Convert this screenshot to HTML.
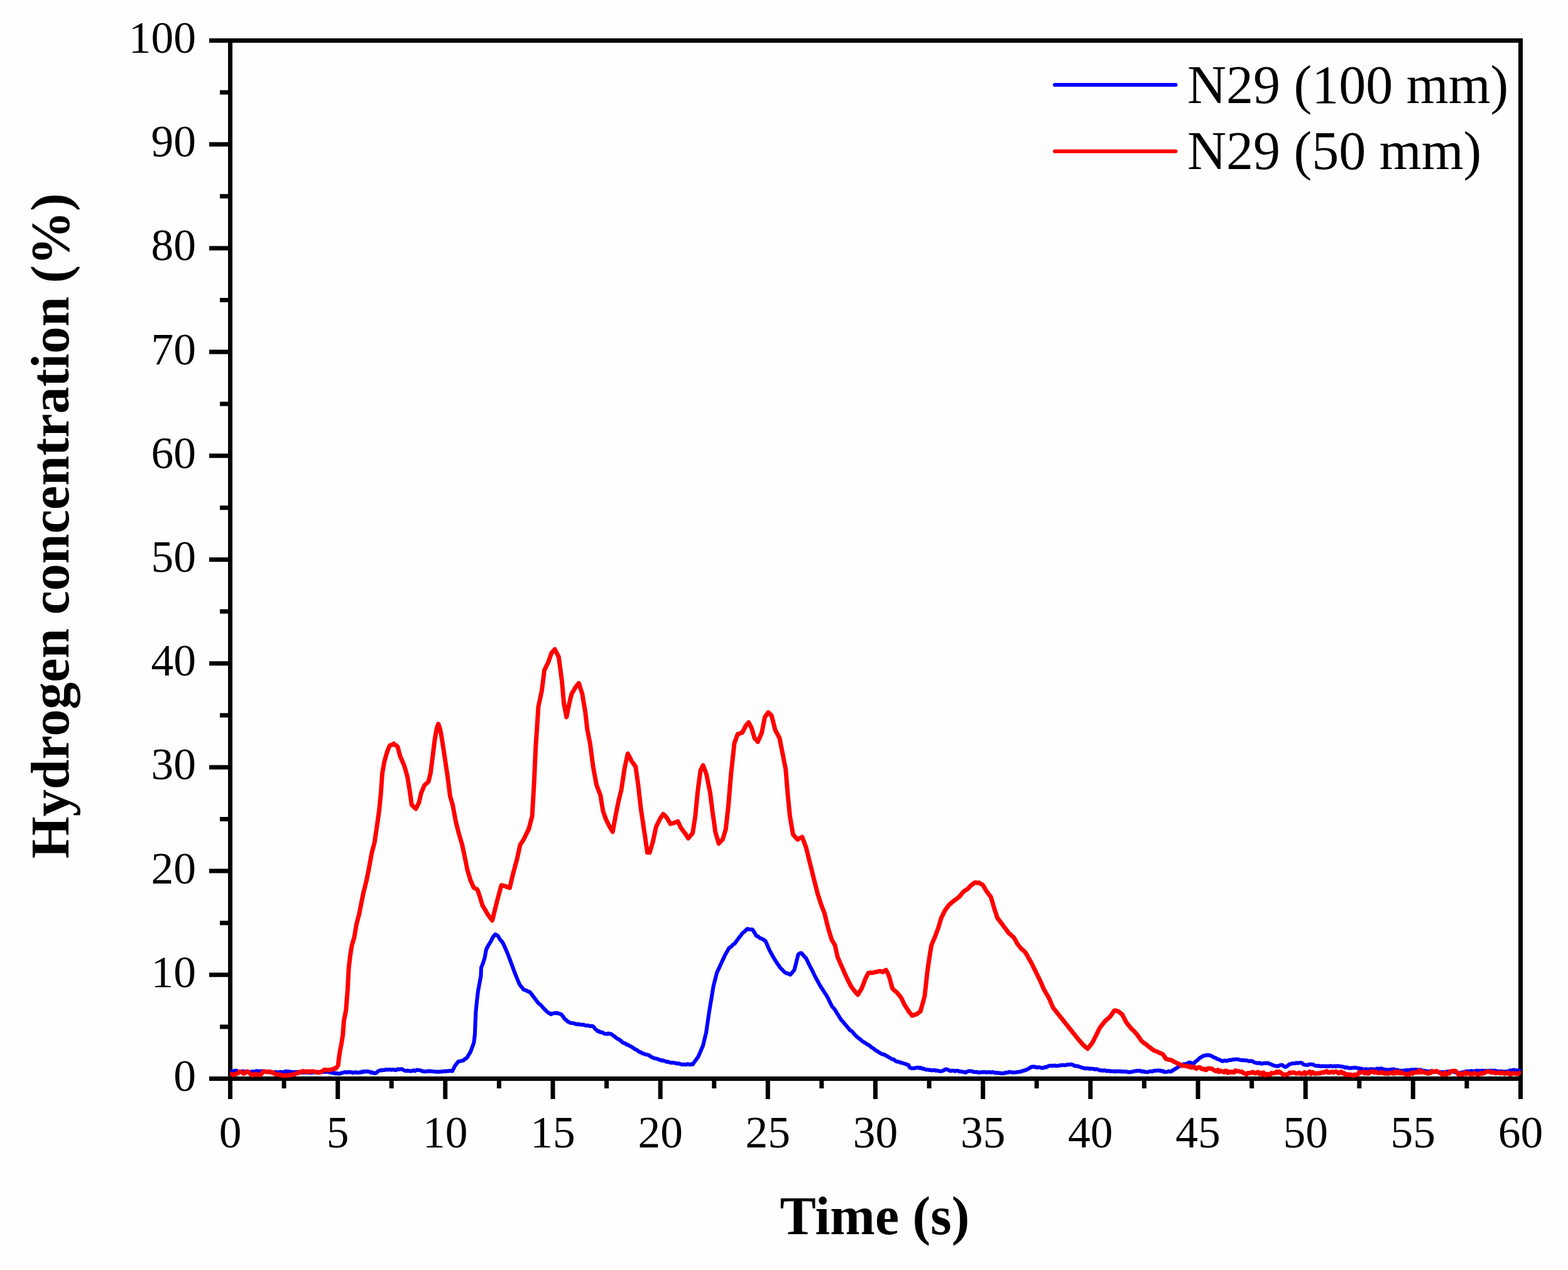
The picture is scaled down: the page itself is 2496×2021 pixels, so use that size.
<!DOCTYPE html>
<html><head><meta charset="utf-8"><title>Hydrogen concentration</title>
<style>
html,body{margin:0;padding:0;background:#fefefe;}
svg{display:block;}
text{font-family:"Liberation Serif","Times New Roman",serif;fill:#000;}
</style></head><body>
<svg width="2496" height="2021" viewBox="0 0 2496 2021">
<rect x="0" y="0" width="2496" height="2021" fill="#fefefe"/>
<rect x="366.5" y="64.5" width="2054.0" height="1652.0" fill="none" stroke="#000" stroke-width="7"/>
<path d="M333.0 1716.5H366.5M350.0 1633.9H366.5M333.0 1551.3H366.5M350.0 1468.7H366.5M333.0 1386.1H366.5M350.0 1303.5H366.5M333.0 1220.9H366.5M350.0 1138.3H366.5M333.0 1055.7H366.5M350.0 973.1H366.5M333.0 890.5H366.5M350.0 807.9H366.5M333.0 725.3H366.5M350.0 642.7H366.5M333.0 560.1H366.5M350.0 477.5H366.5M333.0 394.9H366.5M350.0 312.3H366.5M333.0 229.7H366.5M350.0 147.1H366.5M333.0 64.5H366.5M366.5 1716.5V1749.0M452.1 1716.5V1732.0M537.7 1716.5V1749.0M623.2 1716.5V1732.0M708.8 1716.5V1749.0M794.4 1716.5V1732.0M880.0 1716.5V1749.0M965.6 1716.5V1732.0M1051.2 1716.5V1749.0M1136.8 1716.5V1732.0M1222.3 1716.5V1749.0M1307.9 1716.5V1732.0M1393.5 1716.5V1749.0M1479.1 1716.5V1732.0M1564.7 1716.5V1749.0M1650.2 1716.5V1732.0M1735.8 1716.5V1749.0M1821.4 1716.5V1732.0M1907.0 1716.5V1749.0M1992.6 1716.5V1732.0M2078.2 1716.5V1749.0M2163.8 1716.5V1732.0M2249.3 1716.5V1749.0M2334.9 1716.5V1732.0M2420.5 1716.5V1749.0" stroke="#000" stroke-width="7" fill="none"/>
<polyline points="366.3,1705.5 368.4,1705.7 370.5,1705.3 372.6,1704.2 374.7,1703.7 376.8,1703.9 378.9,1705.0 381.0,1705.0 383.1,1705.0 385.2,1704.9 387.3,1704.8 389.4,1705.4 391.5,1705.6 393.6,1705.8 395.7,1705.4 397.8,1706.1 399.8,1705.6 401.8,1705.2 403.9,1705.3 405.9,1705.3 407.9,1704.2 410.1,1705.0 412.2,1704.6 414.4,1704.7 416.5,1704.6 418.7,1704.5 420.8,1704.7 423.0,1705.5 425.1,1705.6 427.2,1705.5 429.3,1705.8 431.4,1706.6 433.5,1706.3 435.6,1706.5 437.7,1706.1 439.8,1706.0 441.9,1706.8 443.9,1706.3 446.0,1705.8 448.0,1706.1 450.0,1706.5 452.1,1705.9 454.1,1704.9 456.2,1705.7 458.2,1704.9 460.4,1705.5 462.5,1705.6 464.7,1706.0 466.9,1706.0 469.1,1706.2 471.2,1705.7 473.4,1706.1 475.5,1706.9 477.6,1706.9 479.7,1705.9 481.8,1706.8 483.8,1706.8 485.9,1706.5 488.0,1706.7 490.1,1706.7 492.2,1706.8 494.3,1707.3 496.4,1706.5 498.5,1706.8 500.6,1706.0 502.7,1706.6 504.8,1706.5 506.9,1705.7 509.0,1705.7 511.1,1705.5 513.2,1706.2 515.3,1706.0 517.4,1705.8 519.5,1705.5 521.6,1705.8 523.7,1706.1 525.9,1706.7 528.0,1706.3 530.2,1707.7 532.3,1707.2 534.5,1708.5 536.6,1708.0 538.8,1708.6 540.8,1708.7 542.8,1707.9 544.9,1707.1 546.9,1706.6 548.9,1706.1 551.0,1706.4 553.1,1706.4 555.2,1706.1 557.3,1706.0 559.4,1706.5 561.5,1707.2 563.6,1706.8 565.7,1706.1 567.8,1706.8 569.8,1707.0 571.9,1706.6 574.0,1706.7 576.0,1705.4 578.0,1706.0 580.1,1704.8 582.2,1705.4 584.2,1704.9 586.3,1705.1 588.4,1705.6 590.5,1707.0 592.6,1706.4 594.7,1707.5 596.8,1708.0 599.0,1707.2 601.2,1705.1 603.4,1703.8 605.6,1703.0 607.7,1703.4 609.8,1702.7 611.9,1703.0 614.0,1701.9 616.1,1702.2 618.2,1702.3 620.7,1701.9 623.2,1702.7 625.6,1701.9 628.1,1702.6 630.5,1702.9 632.9,1701.3 635.3,1701.9 637.7,1701.3 639.9,1701.4 642.0,1702.6 644.2,1703.7 646.2,1704.3 648.2,1703.6 650.3,1703.9 652.3,1704.5 654.4,1704.5 656.4,1703.9 658.5,1703.2 660.6,1704.3 662.7,1702.9 664.7,1702.5 666.8,1702.9 669.2,1703.3 671.6,1704.3 674.1,1705.0 676.5,1705.3 678.7,1704.7 681.0,1704.9 683.2,1704.3 685.5,1704.8 687.7,1704.8 689.9,1705.3 692.0,1705.3 694.2,1705.6 696.3,1705.5 698.5,1705.7 700.6,1705.3 702.8,1705.5 704.9,1705.0 707.0,1704.5 709.2,1705.0 711.4,1704.4 713.5,1704.5 715.7,1703.9 717.8,1704.4 720.0,1704.5 722.0,1700.7 724.0,1696.5 726.9,1692.7 729.7,1689.2 731.7,1688.9 733.7,1688.3 735.7,1688.0 737.7,1687.6 739.9,1685.2 742.0,1684.4 744.2,1681.9 746.6,1677.8 749.0,1673.9 751.6,1666.7 754.3,1659.4 755.9,1646.5 756.7,1625.5 757.5,1609.4 759.1,1593.2 761.0,1577.1 763.1,1565.8 765.5,1552.9 766.0,1540.0 769.2,1531.9 771.6,1523.9 774.0,1511.0 777.3,1504.5 779.3,1501.3 781.3,1498.1 784.5,1491.6 786.5,1489.0 788.5,1486.8 790.5,1488.1 792.6,1489.2 795.8,1494.8 797.9,1497.1 800.0,1499.7 802.2,1504.1 804.3,1508.8 806.4,1513.6 808.5,1518.7 810.6,1524.1 812.6,1529.6 814.7,1535.3 816.8,1540.9 818.8,1546.4 820.9,1551.9 823.0,1556.9 825.0,1561.7 827.1,1566.4 829.2,1569.4 831.3,1571.8 833.4,1574.7 835.5,1575.4 837.5,1576.0 839.6,1577.3 841.6,1578.2 843.7,1578.8 845.8,1581.7 847.9,1584.4 850.0,1587.1 852.1,1589.8 854.1,1592.6 856.2,1595.4 858.3,1597.5 860.4,1598.9 862.4,1601.0 864.5,1603.7 866.6,1605.8 868.6,1607.7 870.7,1610.0 872.8,1611.7 874.8,1612.4 876.9,1614.1 879.0,1613.0 881.0,1612.6 883.1,1612.1 885.2,1612.0 887.3,1612.1 889.4,1613.1 891.4,1613.5 893.5,1614.1 895.6,1616.8 897.7,1619.7 899.8,1622.4 901.9,1623.4 903.9,1625.8 906.0,1626.6 908.1,1627.8 910.1,1628.0 912.2,1628.2 914.3,1628.8 916.3,1629.5 918.4,1629.9 920.5,1629.5 922.6,1630.3 924.6,1630.7 926.7,1630.5 928.8,1630.7 930.9,1631.5 933.0,1632.1 935.0,1631.7 937.1,1632.2 939.2,1633.0 941.2,1632.7 943.3,1632.8 945.4,1634.6 947.5,1637.6 949.5,1638.8 951.6,1641.1 953.7,1641.1 955.8,1642.7 957.9,1642.6 959.9,1643.6 962.0,1645.0 964.1,1645.2 966.2,1645.4 968.2,1644.5 970.3,1645.1 972.4,1645.2 974.5,1646.6 976.5,1648.3 978.6,1649.5 980.7,1651.5 982.8,1653.0 984.8,1653.7 986.9,1655.3 989.0,1656.9 991.0,1659.0 993.1,1659.8 995.2,1660.2 997.3,1662.2 999.4,1662.5 1001.4,1664.0 1003.5,1664.8 1005.6,1666.0 1007.7,1667.3 1009.7,1669.1 1011.8,1670.0 1013.9,1671.0 1015.9,1672.4 1018.0,1674.3 1020.1,1674.4 1022.2,1676.2 1024.2,1676.5 1026.3,1677.7 1028.4,1678.0 1030.5,1678.4 1033.1,1679.1 1035.7,1681.4 1038.3,1682.6 1040.4,1683.7 1042.4,1684.3 1044.5,1684.6 1046.6,1685.1 1048.6,1686.0 1050.7,1686.7 1052.8,1687.6 1054.9,1687.3 1057.0,1688.2 1059.0,1688.6 1061.1,1689.8 1063.2,1689.6 1065.3,1690.4 1067.3,1691.0 1069.4,1691.3 1071.5,1691.0 1073.5,1691.3 1075.6,1692.1 1077.7,1692.4 1079.8,1692.3 1081.8,1692.8 1083.9,1693.5 1086.0,1694.1 1088.1,1693.8 1090.2,1693.9 1092.2,1694.2 1094.3,1693.2 1096.4,1693.6 1098.5,1694.5 1100.5,1693.3 1102.6,1693.8 1104.7,1691.0 1106.8,1688.0 1108.8,1685.2 1110.9,1682.6 1113.0,1678.1 1115.0,1673.5 1117.0,1668.6 1119.1,1663.9 1121.6,1653.4 1124.1,1643.2 1126.2,1628.6 1128.3,1614.1 1130.3,1601.5 1132.4,1589.2 1135.8,1568.5 1138.5,1558.2 1141.2,1547.7 1144.1,1541.6 1147.0,1535.3 1149.2,1530.4 1151.5,1525.6 1153.7,1520.7 1156.0,1516.4 1158.4,1512.5 1160.7,1508.3 1162.8,1507.4 1164.8,1505.6 1166.9,1503.1 1169.0,1502.1 1171.1,1499.3 1173.1,1496.7 1175.2,1493.8 1177.3,1490.9 1179.4,1488.4 1181.5,1485.5 1183.6,1483.6 1185.7,1482.0 1187.7,1479.7 1189.8,1478.0 1191.8,1479.0 1193.9,1479.0 1196.0,1479.1 1198.0,1479.3 1200.1,1482.6 1202.2,1486.1 1204.3,1489.6 1206.4,1490.0 1208.4,1491.8 1210.5,1493.3 1212.6,1493.8 1214.7,1494.7 1216.7,1496.5 1218.8,1497.9 1220.9,1502.7 1222.9,1507.5 1225.0,1512.4 1227.1,1516.1 1229.2,1519.9 1231.2,1523.4 1233.3,1527.0 1235.4,1530.1 1237.4,1533.4 1239.5,1536.2 1241.6,1539.4 1243.7,1541.8 1245.8,1543.8 1247.8,1546.0 1249.9,1547.7 1252.0,1549.0 1254.1,1549.0 1256.1,1550.3 1258.2,1551.0 1260.3,1548.5 1262.3,1546.1 1264.4,1543.6 1266.5,1535.5 1268.6,1527.1 1270.7,1518.7 1273.2,1517.0 1275.6,1516.6 1278.1,1519.4 1280.6,1522.2 1283.1,1524.9 1285.2,1529.2 1287.2,1533.3 1289.3,1537.5 1291.4,1541.5 1293.5,1545.4 1295.6,1550.0 1297.6,1554.0 1299.7,1558.1 1301.8,1561.8 1303.8,1565.5 1305.9,1569.1 1308.0,1572.6 1310.1,1575.6 1312.2,1579.0 1314.2,1582.1 1316.3,1585.1 1318.4,1589.1 1320.4,1593.5 1322.5,1597.6 1324.6,1601.7 1328.3,1605.8 1330.4,1609.0 1332.5,1612.6 1334.5,1615.6 1336.6,1619.1 1338.7,1622.4 1340.8,1624.8 1342.8,1627.1 1344.9,1629.7 1347.0,1632.1 1349.0,1634.4 1351.1,1636.9 1353.2,1639.6 1355.3,1640.5 1357.3,1642.4 1359.4,1645.2 1361.5,1647.3 1363.6,1649.5 1365.6,1651.0 1367.7,1652.9 1369.8,1654.2 1371.8,1656.2 1373.9,1657.7 1376.0,1658.9 1378.1,1660.1 1380.2,1661.9 1382.2,1662.6 1384.3,1664.0 1386.4,1666.0 1388.5,1667.7 1390.5,1668.3 1392.6,1670.5 1394.7,1671.9 1396.7,1672.8 1398.8,1674.3 1400.9,1675.6 1403.0,1676.8 1405.0,1677.9 1407.1,1677.9 1409.2,1679.0 1411.3,1680.5 1413.5,1681.6 1415.7,1682.9 1417.8,1683.9 1420.0,1685.4 1422.3,1685.8 1424.7,1687.6 1427.0,1689.2 1429.3,1689.6 1431.7,1690.1 1434.0,1691.1 1436.3,1691.5 1438.7,1692.4 1441.1,1693.0 1443.6,1694.3 1446.0,1694.5 1448.0,1698.7 1451.7,1700.3 1453.8,1699.7 1455.8,1699.9 1457.9,1699.3 1459.9,1699.1 1462.0,1698.7 1464.0,1699.8 1466.0,1699.1 1468.0,1700.7 1470.0,1700.4 1472.0,1701.4 1474.0,1702.1 1476.0,1702.2 1478.3,1702.6 1480.7,1702.5 1483.0,1703.4 1485.3,1703.1 1487.3,1702.7 1489.3,1703.7 1491.3,1703.5 1493.3,1703.9 1495.3,1704.6 1497.3,1704.7 1499.3,1704.5 1501.5,1703.7 1503.6,1702.2 1505.8,1701.5 1508.3,1702.1 1510.8,1703.3 1513.3,1704.3 1515.6,1703.8 1517.9,1703.7 1520.3,1704.6 1522.6,1703.8 1524.6,1703.7 1526.6,1705.1 1528.6,1704.9 1530.6,1705.3 1532.6,1705.7 1534.6,1705.8 1536.6,1706.8 1538.8,1705.9 1540.9,1704.7 1543.1,1704.3 1545.2,1704.5 1547.3,1704.6 1549.4,1705.7 1551.5,1706.0 1553.7,1705.7 1555.8,1706.2 1557.9,1706.9 1560.0,1706.6 1562.1,1706.3 1564.1,1706.0 1566.2,1706.1 1568.3,1706.0 1570.3,1706.6 1572.4,1706.2 1574.5,1706.1 1576.5,1706.7 1578.6,1706.2 1580.7,1706.1 1582.8,1707.1 1584.9,1707.1 1587.0,1707.0 1589.1,1707.8 1591.2,1707.3 1593.3,1708.3 1595.4,1708.0 1597.6,1708.1 1599.9,1707.1 1602.1,1706.9 1604.4,1706.8 1606.6,1705.7 1610.0,1706.4 1612.3,1706.6 1614.7,1706.5 1617.0,1706.5 1619.3,1705.9 1621.5,1706.0 1623.8,1705.3 1626.0,1705.2 1628.3,1703.8 1630.5,1703.6 1633.0,1702.7 1635.5,1701.6 1638.0,1700.3 1640.3,1698.7 1642.6,1697.5 1644.9,1697.6 1647.3,1697.5 1649.7,1698.8 1652.0,1698.4 1654.3,1698.4 1656.7,1698.8 1659.0,1699.6 1661.3,1699.2 1663.5,1698.0 1665.6,1698.4 1667.8,1697.0 1670.2,1696.2 1672.5,1695.8 1674.8,1696.0 1677.2,1695.9 1679.3,1695.6 1681.4,1696.3 1683.5,1696.1 1685.6,1695.8 1687.7,1695.2 1689.8,1695.3 1691.9,1694.7 1694.0,1695.0 1696.0,1695.2 1698.1,1694.4 1700.1,1694.0 1702.2,1694.2 1704.2,1693.8 1706.3,1694.0 1708.4,1694.8 1710.5,1696.3 1712.6,1696.4 1714.6,1696.4 1716.6,1697.0 1718.6,1697.7 1720.6,1698.3 1722.6,1699.1 1724.6,1699.4 1726.6,1700.3 1728.6,1700.2 1730.6,1700.1 1732.6,1700.2 1734.6,1700.9 1736.6,1700.6 1738.6,1700.7 1740.6,1701.0 1742.9,1701.8 1745.3,1701.3 1747.7,1701.9 1750.0,1702.9 1752.1,1703.6 1754.1,1703.2 1756.2,1703.8 1758.3,1703.1 1760.3,1703.8 1762.4,1704.5 1764.5,1703.9 1766.5,1704.7 1768.6,1704.5 1770.7,1704.7 1772.7,1704.5 1774.8,1705.4 1776.9,1704.6 1778.9,1704.7 1781.0,1705.0 1783.1,1704.6 1785.1,1705.4 1787.2,1705.0 1789.3,1705.3 1791.5,1705.4 1793.6,1705.4 1795.7,1706.1 1797.9,1706.3 1800.0,1705.7 1802.3,1705.8 1804.7,1704.8 1807.0,1704.4 1809.3,1704.1 1811.4,1704.3 1813.5,1703.8 1815.5,1704.1 1817.6,1705.5 1819.7,1704.5 1821.8,1705.8 1823.8,1705.6 1825.9,1706.1 1828.0,1705.7 1830.1,1704.8 1832.2,1704.9 1834.3,1705.3 1836.4,1704.0 1838.5,1703.8 1840.6,1703.9 1842.7,1703.4 1844.8,1703.6 1847.0,1703.5 1849.3,1704.7 1851.5,1704.3 1853.8,1705.9 1856.0,1705.7 1858.3,1705.6 1860.7,1704.5 1863.0,1705.4 1865.3,1704.6 1867.6,1702.7 1869.9,1701.5 1872.3,1700.1 1874.6,1698.5 1876.8,1696.9 1879.0,1696.3 1881.2,1695.2 1883.2,1693.8 1885.2,1693.2 1887.2,1693.5 1889.3,1692.6 1891.3,1691.4 1893.3,1690.6 1895.8,1691.3 1898.2,1692.1 1900.7,1692.0 1902.9,1689.5 1905.1,1687.9 1907.3,1685.9 1909.6,1683.9 1911.9,1682.4 1914.3,1680.9 1916.6,1679.9 1918.9,1679.4 1921.2,1679.0 1923.6,1679.1 1925.9,1679.4 1928.2,1680.3 1930.6,1681.7 1933.0,1683.1 1935.3,1683.6 1937.5,1685.2 1939.8,1685.9 1942.0,1686.7 1944.3,1688.3 1946.5,1688.7 1948.5,1687.9 1950.5,1687.6 1952.5,1688.3 1954.6,1687.7 1956.6,1686.9 1958.6,1687.0 1960.9,1686.5 1963.2,1686.0 1965.6,1685.9 1967.9,1685.6 1969.9,1685.8 1971.9,1686.0 1973.9,1686.8 1975.9,1687.1 1977.9,1687.0 1979.9,1687.2 1981.9,1687.5 1984.2,1687.4 1986.6,1688.2 1988.9,1688.7 1991.2,1688.2 1993.4,1688.6 1995.6,1690.1 1997.8,1691.0 2000.0,1691.5 2002.4,1692.0 2004.8,1691.4 2007.2,1692.4 2009.6,1692.6 2011.8,1691.9 2014.0,1691.7 2016.2,1692.0 2018.4,1691.6 2020.9,1692.9 2023.4,1693.9 2025.9,1694.8 2028.4,1695.8 2031.0,1696.4 2033.5,1696.7 2036.0,1696.0 2038.6,1694.8 2041.1,1694.8 2043.6,1696.7 2046.1,1697.9 2048.2,1696.9 2050.3,1695.4 2052.4,1693.5 2054.6,1693.3 2056.8,1692.3 2059.0,1692.2 2061.2,1692.3 2063.4,1691.4 2065.6,1691.8 2067.8,1691.4 2070.0,1691.0 2072.2,1691.5 2074.4,1693.5 2076.6,1694.5 2078.8,1694.8 2081.3,1694.9 2083.9,1693.9 2086.4,1693.5 2088.6,1693.8 2090.8,1694.3 2093.0,1695.8 2095.2,1696.0 2097.3,1696.4 2099.4,1695.9 2101.5,1696.9 2103.6,1696.6 2105.7,1696.5 2107.8,1696.7 2109.9,1696.6 2112.0,1697.0 2114.1,1696.6 2116.2,1696.9 2118.3,1696.2 2120.4,1696.7 2122.5,1697.0 2124.6,1696.4 2126.7,1697.3 2128.8,1696.3 2130.9,1696.5 2133.0,1696.7 2135.1,1697.2 2137.2,1697.4 2139.3,1698.0 2141.4,1699.0 2143.5,1698.4 2145.6,1699.2 2147.7,1699.6 2149.8,1699.5 2151.9,1699.6 2154.0,1699.1 2156.1,1699.1 2158.2,1699.2 2160.6,1699.5 2163.0,1700.2 2165.3,1700.4 2167.7,1700.8 2170.1,1701.7 2172.3,1701.7 2174.4,1701.3 2176.6,1701.7 2178.7,1701.8 2180.9,1701.4 2183.0,1701.2 2185.2,1701.7 2187.5,1701.6 2189.8,1701.7 2192.1,1700.6 2194.4,1700.9 2196.7,1700.7 2199.0,1700.2 2201.2,1701.4 2203.4,1701.9 2205.7,1702.0 2207.9,1703.0 2210.1,1702.3 2212.3,1702.8 2214.5,1701.7 2216.7,1701.7 2218.8,1701.4 2220.9,1703.1 2223.0,1702.5 2225.1,1703.1 2227.2,1703.5 2229.3,1704.2 2231.4,1703.7 2233.5,1704.1 2235.6,1703.4 2237.7,1703.3 2239.8,1703.1 2241.9,1703.0 2244.1,1703.4 2246.2,1702.1 2248.4,1702.8 2250.5,1702.1 2252.7,1702.0 2254.8,1702.5 2257.0,1702.3 2259.1,1702.5 2261.1,1702.3 2263.2,1703.4 2265.2,1704.2 2267.2,1704.1 2269.3,1704.2 2271.3,1705.0 2273.4,1704.9 2275.5,1705.6 2277.6,1704.6 2279.7,1704.9 2281.8,1706.0 2283.9,1706.0 2286.0,1705.5 2288.1,1705.2 2290.2,1706.0 2292.2,1706.3 2294.3,1706.0 2296.4,1706.3 2298.5,1706.1 2300.6,1706.0 2302.7,1705.5 2304.8,1705.4 2306.9,1705.1 2309.0,1705.8 2311.1,1705.5 2313.2,1705.3 2315.3,1706.3 2317.4,1706.3 2319.5,1706.7 2321.6,1707.7 2323.7,1707.4 2325.8,1706.8 2327.9,1706.5 2330.0,1706.0 2332.1,1705.3 2334.2,1704.9 2336.3,1704.9 2338.4,1704.8 2340.5,1705.1 2342.6,1704.0 2344.7,1705.1 2346.8,1704.6 2348.9,1704.2 2351.0,1703.6 2353.1,1704.5 2355.2,1704.1 2357.3,1704.2 2359.4,1703.6 2361.5,1704.2 2363.6,1704.1 2365.7,1704.0 2367.8,1704.3 2369.9,1703.9 2372.0,1704.0 2374.1,1703.6 2376.2,1704.2 2378.3,1703.8 2380.4,1703.9 2382.5,1704.8 2384.6,1704.7 2386.7,1705.5 2388.8,1704.9 2390.9,1705.1 2393.0,1705.3 2395.1,1705.3 2397.2,1705.2 2399.3,1704.9 2401.5,1705.0 2403.7,1703.4 2405.9,1703.6 2408.1,1703.0 2410.2,1702.6 2412.3,1703.6 2414.4,1703.5 2416.5,1703.3 2418.6,1703.7 2420.7,1704.2" fill="none" stroke="#0000ff" stroke-width="6.1" stroke-linejoin="round"/>
<polyline points="366.3,1709.3 368.4,1709.2 370.5,1710.2 372.6,1710.5 374.6,1709.2 376.6,1708.7 378.7,1707.8 380.7,1705.6 382.7,1705.5 385.2,1706.1 387.7,1708.6 390.5,1707.4 393.4,1704.9 395.7,1706.3 398.0,1708.1 400.3,1710.5 402.8,1711.0 405.4,1709.4 407.9,1709.0 410.0,1710.2 412.1,1710.0 414.2,1710.5 416.3,1708.9 418.4,1706.1 420.5,1704.9 422.5,1705.3 424.5,1705.9 426.5,1705.3 428.5,1705.9 430.5,1705.5 432.5,1706.7 434.5,1706.4 436.6,1708.7 438.6,1709.2 440.6,1709.9 443.1,1709.9 445.7,1709.8 448.2,1711.2 450.3,1711.8 452.4,1710.9 454.5,1711.3 456.6,1711.5 458.7,1711.0 460.8,1710.5 463.0,1711.0 465.2,1709.7 467.4,1710.2 469.6,1709.3 472.1,1707.9 474.6,1707.6 477.1,1705.5 479.3,1706.3 481.6,1704.7 483.8,1704.8 486.0,1705.5 488.0,1704.8 490.0,1706.2 492.0,1705.0 494.0,1705.3 496.0,1704.9 498.1,1704.8 500.2,1705.5 502.3,1705.6 504.4,1705.9 506.5,1706.7 508.6,1706.8 511.1,1705.5 513.7,1704.6 516.2,1702.3 518.5,1702.5 520.7,1702.9 523.0,1702.7 525.2,1702.8 527.5,1701.7 529.8,1701.6 532.1,1700.2 534.4,1700.5 538.2,1695.4 539.5,1684.1 541.4,1671.5 543.9,1658.9 545.8,1646.3 547.4,1624.7 550.7,1608.0 553.4,1574.5 555.1,1541.1 557.4,1521.1 560.1,1504.3 562.1,1497.8 564.1,1491.0 567.4,1470.9 569.6,1462.7 571.8,1454.2 575.1,1437.5 578.5,1420.8 581.0,1410.9 583.5,1400.7 585.5,1390.7 587.5,1380.7 589.6,1369.1 591.8,1357.3 594.0,1348.9 596.2,1340.6 598.2,1327.3 600.2,1313.8 603.5,1290.4 606.2,1263.7 608.6,1230.2 611.9,1211.9 614.0,1204.4 616.2,1196.8 618.2,1191.7 620.2,1186.8 622.4,1185.3 624.7,1185.0 626.9,1183.5 628.9,1185.7 631.0,1186.4 633.0,1188.5 635.0,1196.1 637.0,1203.5 639.2,1208.5 641.4,1213.5 643.6,1218.6 646.2,1227.7 648.7,1236.9 652.0,1257.0 655.3,1280.4 657.5,1282.9 659.8,1285.2 662.0,1287.1 664.5,1281.9 667.0,1277.0 670.4,1262.0 672.9,1256.2 675.4,1250.3 677.6,1247.6 679.9,1246.1 682.1,1243.6 685.4,1230.2 688.8,1203.5 692.1,1176.8 695.0,1160.0 697.7,1152.0 700.5,1160.0 702.5,1170.0 704.9,1185.0 707.2,1200.2 709.7,1217.0 712.2,1233.6 714.4,1250.4 716.5,1267.0 718.5,1273.7 720.5,1280.4 723.0,1293.9 725.5,1307.1 728.0,1317.1 730.6,1327.2 733.1,1335.4 735.6,1343.9 737.8,1354.0 739.9,1364.0 741.9,1373.9 743.9,1384.0 746.4,1392.3 748.9,1400.7 751.5,1406.5 754.0,1412.4 756.0,1413.6 758.0,1414.3 760.0,1415.8 762.0,1421.5 764.0,1427.5 766.0,1434.3 768.0,1440.8 771.1,1446.0 773.2,1449.4 775.2,1453.1 777.3,1456.4 779.4,1459.3 781.5,1461.9 783.6,1464.7 785.7,1456.4 787.7,1448.1 789.8,1439.8 791.9,1431.5 794.0,1423.9 796.0,1416.3 798.1,1408.7 800.2,1409.2 802.2,1409.7 804.3,1410.0 806.7,1411.4 809.0,1411.9 811.4,1412.9 814.1,1401.4 816.8,1390.0 818.9,1382.5 820.9,1374.7 823.0,1367.2 825.5,1355.7 828.0,1344.4 830.7,1340.4 833.4,1336.1 835.5,1332.0 837.5,1327.8 839.6,1323.5 841.7,1319.5 844.4,1309.1 847.1,1298.8 850.0,1249.0 852.9,1186.7 855.0,1155.6 857.0,1124.5 859.7,1111.9 862.4,1099.6 864.5,1083.0 866.6,1066.4 868.7,1062.3 870.7,1057.9 872.8,1053.9 875.3,1046.7 877.8,1039.4 880.5,1036.3 883.2,1033.2 885.3,1037.4 887.3,1041.4 889.4,1045.6 891.9,1064.4 894.4,1083.0 897.7,1120.3 899.8,1130.8 901.8,1141.1 903.9,1130.6 906.0,1120.3 908.0,1111.9 910.1,1103.7 912.2,1100.3 914.2,1097.0 916.3,1093.4 918.8,1090.2 921.3,1087.1 924.0,1095.4 926.7,1103.7 929.2,1118.3 931.7,1132.8 935.0,1161.8 937.1,1172.1 939.2,1182.6 941.7,1201.2 944.1,1219.9 946.8,1234.4 949.5,1249.0 951.6,1254.5 953.7,1260.1 955.8,1265.6 957.8,1278.0 959.9,1290.5 962.0,1296.7 964.1,1302.9 966.2,1307.1 968.2,1311.1 970.3,1315.4 972.8,1319.6 975.3,1323.7 977.5,1311.3 979.8,1298.8 982.3,1286.3 984.8,1273.9 986.9,1265.5 989.0,1257.3 991.5,1240.8 994.0,1224.1 996.6,1211.6 999.3,1199.2 1001.4,1203.2 1003.5,1207.4 1005.6,1211.6 1007.7,1214.4 1009.7,1217.0 1011.8,1219.9 1013.8,1234.4 1015.9,1249.0 1018.0,1267.6 1020.1,1286.3 1022.2,1300.2 1024.2,1313.9 1026.3,1327.8 1028.4,1342.4 1030.5,1356.8 1034.1,1356.8 1036.6,1348.4 1039.1,1340.2 1041.8,1327.8 1044.5,1315.4 1046.6,1311.3 1048.6,1307.2 1050.7,1302.9 1053.2,1299.1 1055.7,1295.4 1058.4,1297.8 1061.1,1300.8 1063.2,1304.2 1065.2,1307.7 1067.3,1311.2 1069.4,1310.2 1071.5,1310.1 1073.6,1309.1 1076.3,1308.4 1079.0,1307.1 1081.5,1312.2 1083.9,1317.4 1086.0,1320.1 1088.1,1323.0 1090.2,1325.7 1092.9,1329.9 1095.6,1334.0 1097.9,1331.3 1100.3,1328.4 1102.6,1325.7 1104.7,1312.1 1106.8,1298.8 1108.8,1278.0 1110.9,1257.3 1113.0,1241.8 1115.1,1226.1 1117.2,1221.9 1119.2,1217.8 1121.9,1225.1 1124.6,1232.4 1127.5,1246.9 1130.4,1261.4 1132.5,1278.0 1134.6,1294.6 1136.7,1309.1 1138.7,1323.7 1141.4,1333.1 1144.1,1342.3 1146.2,1339.9 1148.2,1337.7 1150.3,1336.1 1152.8,1327.9 1155.3,1319.5 1157.4,1301.0 1159.5,1282.2 1161.5,1257.4 1163.6,1232.4 1166.3,1207.5 1169.0,1182.6 1171.7,1175.4 1174.4,1168.0 1176.8,1167.8 1179.1,1166.4 1181.5,1166.0 1184.2,1160.9 1186.8,1155.6 1189.3,1152.6 1191.8,1149.4 1194.3,1154.6 1196.8,1159.8 1198.9,1167.1 1201.0,1174.3 1203.7,1177.3 1206.3,1180.5 1208.4,1175.6 1210.5,1170.8 1212.6,1166.0 1215.1,1153.4 1217.6,1141.1 1220.2,1137.4 1222.9,1133.6 1225.6,1136.2 1228.3,1139.0 1231.2,1150.5 1234.1,1161.8 1236.3,1165.8 1238.6,1170.3 1240.8,1174.3 1243.3,1186.8 1245.8,1199.2 1248.2,1211.8 1250.7,1224.1 1254.1,1265.6 1257.4,1298.8 1259.9,1313.4 1262.4,1327.8 1264.9,1330.7 1267.3,1333.4 1269.8,1336.1 1272.2,1334.2 1274.5,1333.5 1276.9,1331.9 1279.0,1337.3 1281.0,1342.9 1283.1,1348.5 1285.2,1356.8 1287.2,1365.1 1289.3,1373.4 1291.4,1381.7 1293.4,1390.1 1295.5,1398.3 1297.6,1406.6 1299.7,1414.9 1301.8,1423.2 1304.5,1431.4 1307.2,1439.8 1309.7,1446.2 1312.2,1452.3 1314.3,1460.6 1316.3,1469.0 1318.4,1477.2 1321.2,1486.5 1324.1,1495.9 1326.6,1499.9 1329.1,1504.1 1331.2,1513.5 1333.3,1522.8 1336.0,1529.1 1338.7,1535.3 1341.4,1541.4 1344.1,1547.7 1347.0,1554.0 1349.9,1560.2 1352.6,1565.5 1355.3,1570.5 1357.8,1573.7 1360.2,1576.8 1362.9,1580.0 1365.6,1583.0 1367.7,1579.4 1369.8,1576.1 1371.9,1572.6 1374.6,1565.5 1377.3,1558.1 1379.8,1553.2 1382.2,1548.5 1384.3,1548.1 1386.3,1547.9 1388.4,1547.9 1390.5,1547.7 1392.6,1547.1 1394.7,1546.6 1396.7,1546.4 1398.8,1545.6 1400.9,1545.5 1403.0,1546.0 1405.1,1546.9 1407.8,1544.9 1410.5,1543.6 1413.0,1548.6 1415.4,1553.9 1417.9,1563.1 1420.4,1572.6 1422.6,1575.1 1424.9,1577.1 1427.1,1578.8 1429.4,1581.4 1431.8,1584.3 1434.1,1587.1 1436.2,1591.2 1438.2,1595.4 1440.3,1599.6 1442.4,1602.9 1444.5,1606.2 1446.6,1609.5 1449.3,1612.9 1452.0,1616.2 1454.3,1615.4 1456.7,1614.5 1459.0,1614.1 1461.1,1612.4 1463.1,1610.7 1465.2,1609.5 1467.4,1601.4 1469.7,1593.3 1471.9,1585.1 1474.0,1566.4 1476.0,1547.7 1478.1,1533.1 1480.2,1518.7 1482.7,1504.1 1485.3,1497.8 1488.0,1491.7 1490.7,1484.4 1493.4,1477.2 1495.9,1468.9 1498.4,1460.6 1500.5,1456.5 1502.5,1452.2 1504.6,1448.1 1506.7,1445.4 1508.8,1442.6 1510.9,1439.8 1513.4,1437.7 1515.8,1435.5 1518.3,1433.6 1520.4,1432.0 1522.4,1430.7 1524.5,1428.9 1526.6,1427.4 1529.0,1424.7 1531.3,1421.9 1533.7,1419.1 1535.8,1417.4 1537.8,1416.3 1539.9,1414.9 1542.0,1412.9 1544.0,1410.6 1546.1,1408.7 1548.8,1406.6 1551.5,1404.6 1553.9,1404.5 1556.2,1405.0 1558.6,1404.6 1560.7,1406.4 1562.7,1407.2 1564.8,1408.7 1566.9,1412.3 1568.9,1415.7 1571.0,1419.1 1573.1,1421.8 1575.2,1424.6 1577.3,1427.4 1579.8,1435.6 1582.2,1444.0 1584.9,1452.4 1587.6,1460.6 1589.7,1463.4 1591.8,1466.2 1593.9,1468.9 1596.0,1471.8 1598.0,1474.5 1600.1,1477.2 1602.2,1480.0 1604.2,1482.8 1606.3,1485.5 1608.8,1487.2 1611.3,1489.7 1613.8,1491.7 1616.7,1496.8 1619.6,1502.1 1622.0,1505.1 1624.5,1508.3 1626.6,1510.6 1628.7,1512.0 1630.7,1514.1 1632.8,1516.6 1634.9,1520.1 1636.9,1524.0 1639.0,1527.4 1641.1,1531.1 1643.2,1535.1 1645.2,1539.5 1647.3,1543.4 1649.4,1547.7 1651.5,1552.0 1653.5,1556.1 1655.6,1560.2 1657.7,1565.1 1659.8,1570.0 1661.9,1574.7 1664.0,1578.3 1666.1,1582.0 1668.1,1585.4 1670.2,1589.2 1672.3,1594.1 1674.3,1598.9 1676.4,1603.7 1678.5,1606.4 1680.6,1608.8 1682.6,1611.6 1684.7,1614.1 1686.8,1616.8 1688.8,1619.2 1690.9,1621.8 1693.0,1624.5 1695.1,1627.1 1697.2,1629.8 1699.2,1632.2 1701.3,1634.9 1703.4,1637.4 1705.4,1640.0 1707.5,1642.7 1709.6,1645.2 1711.7,1647.9 1713.8,1650.4 1715.8,1653.0 1717.9,1655.6 1720.4,1658.3 1722.9,1661.1 1725.4,1663.9 1728.3,1666.4 1731.2,1669.0 1733.7,1665.8 1736.1,1662.9 1738.6,1659.8 1740.7,1655.8 1742.8,1651.4 1744.9,1647.3 1747.0,1643.2 1749.0,1638.9 1751.1,1634.9 1753.2,1632.4 1755.2,1629.8 1757.3,1627.2 1759.4,1624.5 1761.9,1622.5 1764.3,1620.4 1766.8,1618.3 1769.2,1614.9 1771.5,1611.5 1773.9,1607.9 1776.3,1608.2 1778.6,1608.9 1781.0,1610.0 1783.7,1612.3 1786.3,1614.1 1788.4,1618.4 1790.5,1622.4 1792.6,1626.6 1794.7,1629.2 1796.8,1631.9 1798.8,1634.3 1800.9,1637.0 1803.0,1638.8 1805.1,1640.8 1807.1,1643.2 1809.2,1645.2 1811.7,1648.8 1814.3,1652.4 1816.8,1656.1 1819.1,1658.1 1821.4,1660.3 1823.8,1661.4 1826.1,1663.5 1828.3,1665.4 1830.6,1666.8 1832.8,1668.9 1835.1,1670.3 1837.3,1671.9 1839.3,1672.5 1841.3,1673.4 1843.3,1674.0 1845.3,1675.4 1847.3,1676.1 1849.3,1676.8 1851.3,1678.0 1853.7,1681.5 1856.0,1685.0 1858.3,1685.4 1860.7,1686.4 1863.0,1686.4 1865.3,1687.3 1867.6,1689.1 1869.9,1689.8 1872.3,1691.2 1874.6,1692.4 1876.9,1693.2 1879.3,1694.4 1881.7,1696.2 1884.0,1695.7 1886.3,1696.2 1888.7,1696.2 1891.0,1697.4 1893.3,1696.8 1895.6,1698.7 1897.9,1697.3 1900.3,1699.0 1902.6,1698.5 1904.6,1700.7 1906.6,1699.0 1908.6,1698.4 1910.6,1698.8 1912.6,1701.0 1914.6,1701.2 1916.6,1700.8 1918.6,1702.8 1920.6,1702.5 1922.6,1700.2 1924.6,1700.1 1926.6,1700.5 1928.6,1700.4 1930.6,1701.8 1932.6,1703.1 1934.6,1704.1 1936.6,1704.8 1938.6,1702.6 1940.6,1705.5 1942.6,1703.8 1944.6,1705.0 1946.6,1704.9 1948.6,1706.3 1950.6,1703.9 1952.6,1704.2 1954.6,1707.3 1956.6,1705.4 1958.6,1706.4 1960.6,1705.6 1962.6,1706.3 1964.6,1706.4 1966.6,1703.5 1968.6,1704.6 1970.6,1704.8 1972.6,1704.8 1974.9,1705.6 1977.2,1705.4 1979.6,1707.8 1981.9,1708.3 1984.2,1709.9 1986.6,1707.4 1988.9,1707.8 1991.2,1707.4 1993.4,1705.9 1995.6,1706.5 1997.8,1708.1 2000.0,1707.4 2002.4,1705.9 2004.7,1708.9 2007.1,1707.4 2009.3,1709.7 2011.5,1707.0 2013.7,1711.0 2015.9,1709.9 2017.9,1709.0 2019.9,1710.2 2021.9,1709.8 2023.9,1707.6 2025.9,1708.0 2028.0,1707.9 2030.1,1706.9 2032.2,1705.5 2034.3,1707.2 2036.4,1705.4 2038.5,1706.8 2041.0,1708.9 2043.6,1710.7 2046.1,1709.9 2048.4,1710.1 2050.7,1709.0 2053.1,1706.8 2055.4,1707.8 2057.7,1706.7 2060.0,1706.8 2062.0,1708.0 2064.0,1708.2 2066.0,1708.1 2068.0,1707.0 2070.0,1708.6 2072.1,1708.9 2074.2,1708.5 2076.3,1706.4 2078.4,1709.0 2080.5,1707.7 2082.6,1706.8 2084.7,1705.5 2086.8,1708.9 2088.9,1706.0 2091.0,1706.9 2093.1,1708.7 2095.2,1708.0 2097.3,1708.2 2099.4,1707.8 2101.5,1708.0 2103.6,1707.0 2105.7,1706.2 2107.8,1706.8 2109.9,1705.3 2112.0,1704.6 2114.1,1707.0 2116.2,1707.0 2118.3,1705.9 2120.4,1705.5 2122.5,1706.7 2124.6,1705.4 2126.7,1705.2 2128.8,1705.9 2130.9,1708.1 2133.0,1706.8 2135.1,1705.6 2137.2,1708.1 2139.3,1707.6 2141.4,1710.3 2143.5,1709.3 2145.6,1710.5 2147.7,1709.8 2149.8,1710.1 2151.9,1710.7 2154.0,1711.6 2156.1,1709.9 2158.2,1710.5 2160.7,1710.7 2163.2,1706.5 2165.7,1706.8 2168.0,1706.3 2170.3,1706.0 2172.6,1708.0 2174.8,1706.1 2177.0,1708.5 2179.2,1708.0 2181.4,1705.5 2183.6,1705.2 2185.8,1705.8 2188.0,1706.8 2190.2,1705.5 2192.5,1707.3 2194.8,1707.5 2197.1,1707.4 2199.5,1706.2 2201.8,1707.7 2204.1,1708.6 2206.2,1707.3 2208.3,1708.5 2210.4,1708.6 2212.5,1707.0 2214.6,1707.1 2216.7,1708.0 2218.7,1708.6 2220.7,1705.1 2222.8,1707.7 2224.8,1707.6 2226.8,1705.5 2229.1,1708.1 2231.3,1706.6 2233.6,1708.0 2235.8,1708.9 2238.1,1709.3 2240.2,1709.4 2242.3,1710.4 2244.4,1708.8 2246.5,1706.8 2248.6,1708.7 2250.7,1706.8 2252.8,1706.4 2254.9,1706.6 2257.0,1706.8 2259.1,1703.5 2261.2,1706.3 2263.3,1704.9 2265.3,1706.3 2267.3,1706.3 2269.4,1707.2 2271.4,1707.7 2273.4,1708.6 2275.5,1706.6 2277.6,1707.3 2279.7,1704.5 2281.8,1705.7 2283.9,1705.5 2286.0,1704.2 2288.5,1705.2 2291.0,1707.0 2293.5,1708.0 2295.8,1710.0 2298.0,1709.8 2300.3,1706.9 2302.5,1709.6 2304.8,1708.6 2307.0,1708.0 2309.2,1704.6 2311.5,1704.7 2313.7,1704.2 2315.7,1704.2 2317.7,1704.6 2319.7,1707.4 2321.7,1710.0 2323.7,1709.3 2325.8,1708.3 2327.9,1710.1 2330.0,1709.1 2332.1,1706.6 2334.2,1709.1 2336.3,1707.4 2338.4,1708.0 2340.5,1709.5 2342.6,1708.9 2344.7,1709.2 2346.8,1707.8 2348.9,1708.6 2351.0,1709.6 2353.1,1709.9 2355.2,1709.4 2357.3,1707.5 2359.4,1708.6 2361.5,1707.4 2363.6,1707.2 2365.7,1705.6 2367.8,1705.3 2369.9,1705.3 2372.0,1705.7 2374.1,1706.8 2376.2,1705.5 2378.3,1707.0 2380.4,1707.9 2382.5,1707.3 2384.6,1707.0 2386.7,1707.4 2388.8,1708.1 2390.9,1706.8 2393.0,1707.6 2395.1,1708.8 2397.2,1707.5 2399.3,1708.0 2401.4,1706.8 2403.5,1709.8 2405.6,1709.2 2407.7,1707.9 2409.8,1708.0 2411.9,1708.6 2414.1,1708.7 2416.3,1709.0 2418.5,1707.5 2420.7,1708.6" fill="none" stroke="#ff0000" stroke-width="7.0" stroke-linejoin="round"/>
<text x="312.1" y="1736.0" font-size="71.5" text-anchor="end">0</text>
<text x="312.1" y="1570.8" font-size="71.5" text-anchor="end">10</text>
<text x="312.1" y="1405.6" font-size="71.5" text-anchor="end">20</text>
<text x="312.1" y="1240.4" font-size="71.5" text-anchor="end">30</text>
<text x="312.1" y="1075.2" font-size="71.5" text-anchor="end">40</text>
<text x="312.1" y="910.0" font-size="71.5" text-anchor="end">50</text>
<text x="312.1" y="744.8" font-size="71.5" text-anchor="end">60</text>
<text x="312.1" y="579.6" font-size="71.5" text-anchor="end">70</text>
<text x="312.1" y="414.4" font-size="71.5" text-anchor="end">80</text>
<text x="312.1" y="249.2" font-size="71.5" text-anchor="end">90</text>
<text x="312.1" y="84.0" font-size="71.5" text-anchor="end">100</text>
<text x="366.5" y="1825.8" font-size="71.5" text-anchor="middle">0</text>
<text x="537.7" y="1825.8" font-size="71.5" text-anchor="middle">5</text>
<text x="708.8" y="1825.8" font-size="71.5" text-anchor="middle">10</text>
<text x="880.0" y="1825.8" font-size="71.5" text-anchor="middle">15</text>
<text x="1051.2" y="1825.8" font-size="71.5" text-anchor="middle">20</text>
<text x="1222.3" y="1825.8" font-size="71.5" text-anchor="middle">25</text>
<text x="1393.5" y="1825.8" font-size="71.5" text-anchor="middle">30</text>
<text x="1564.7" y="1825.8" font-size="71.5" text-anchor="middle">35</text>
<text x="1735.8" y="1825.8" font-size="71.5" text-anchor="middle">40</text>
<text x="1907.0" y="1825.8" font-size="71.5" text-anchor="middle">45</text>
<text x="2078.2" y="1825.8" font-size="71.5" text-anchor="middle">50</text>
<text x="2249.3" y="1825.8" font-size="71.5" text-anchor="middle">55</text>
<text x="2420.5" y="1825.8" font-size="71.5" text-anchor="middle">60</text>
<text x="1392.5" y="1963.7" font-size="86" font-weight="bold" text-anchor="middle">Time (s)</text>
<text transform="translate(109.1 1366.2) rotate(-90)" x="0" y="0" font-size="86" font-weight="bold">Hydrogen concentration (%)</text>
<line x1="1679" y1="135" x2="1871.5" y2="135" stroke="#0000ff" stroke-width="6" stroke-linecap="round"/>
<line x1="1679" y1="240.8" x2="1871.5" y2="240.8" stroke="#ff0000" stroke-width="6" stroke-linecap="round"/>
<text x="1890" y="164.1" font-size="86">N29 (100 mm)</text>
<text x="1890" y="268.9" font-size="86">N29 (50 mm)</text>
</svg>
</body></html>
